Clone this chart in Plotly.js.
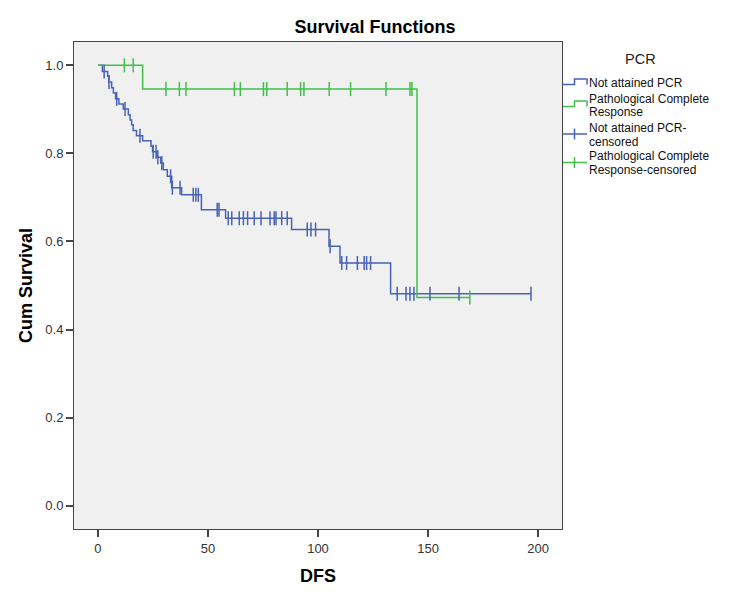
<!DOCTYPE html>
<html>
<head>
<meta charset="utf-8">
<script src="https://cdn.plot.ly/plotly-3.0.1.min.js"></script>
<style>
  html, body { margin: 0; padding: 0; background: #ffffff; }
  #chart { width: 750px; height: 600px; }
</style>
</head>
<body>
<div id="chart"></div>
<script>
// Kaplan-Meier steps: time of each drop and survival level after it
const notAttainedTime = [0, 2.0, 4.4, 5.0, 6.2, 7.0, 8.0, 9.5, 11.5, 13.8, 14.6, 15.3, 16.0, 17.5, 20.3, 24.1, 24.8, 26.8, 28.5, 29.7, 31.5, 33.5, 38.0, 47.0, 58.0, 88.0, 105.0, 110.0, 133.0, 196.8];
const notAttainedSurv = [1.0, 0.986, 0.975, 0.962, 0.949, 0.937, 0.924, 0.912, 0.901, 0.888, 0.876, 0.865, 0.852, 0.840, 0.829, 0.816, 0.804, 0.791, 0.778, 0.763, 0.748, 0.722, 0.706, 0.672, 0.653, 0.627, 0.589, 0.551, 0.481, 0.481];

const pcrTime = [0, 20.3, 145.0, 169.0];
const pcrSurv = [1.0, 0.946, 0.473, 0.473];

// Censored observations (time, survival level at that time)
const notAttainedCensTime = [2.8, 5.0, 8.5, 12.3, 19.1, 25.1, 26.4, 27.2, 29.0, 33.0, 33.8, 37.3, 43.3, 44.5, 45.6,
  54.2, 55.0,
  59.2, 60.8, 64.2, 66.1, 68.0, 71.0, 74.1, 78.2, 80.1, 80.9, 83.5, 86.0,
  95.1, 96.8, 98.9,
  105.5,
  110.8, 113.0, 117.9, 121.0, 122.1, 123.9,
  136.0, 140.0, 141.8, 143.6, 150.9, 164.1, 196.8];
const notAttainedCensSurv = [0.986, 0.962, 0.924, 0.901, 0.840, 0.804, 0.804, 0.791, 0.778, 0.748, 0.722, 0.722, 0.706, 0.706, 0.706,
  0.672, 0.672,
  0.653, 0.653, 0.653, 0.653, 0.653, 0.653, 0.653, 0.653, 0.653, 0.653, 0.653, 0.653,
  0.627, 0.627, 0.627,
  0.589,
  0.551, 0.551, 0.551, 0.551, 0.551, 0.551,
  0.481, 0.481, 0.481, 0.481, 0.481, 0.481, 0.481];

const pcrCensTime = [12.0, 16.0, 30.9, 37.0, 40.0, 62.0, 64.7, 75.2, 76.7, 86.0, 92.1, 93.6, 105.1, 114.8, 130.9, 141.8, 142.7, 169.0];
const pcrCensSurv = [1.0, 1.0, 0.946, 0.946, 0.946, 0.946, 0.946, 0.946, 0.946, 0.946, 0.946, 0.946, 0.946, 0.946, 0.946, 0.946, 0.946, 0.473];

const legendTitle = 'PCR';
const seriesNames = ['Not attained PCR', 'Pathological Complete Response', 'Not attained PCR-censored', 'Pathological Complete Response-censored'];
// how each legend label is broken over lines
const legendLines = [
  ['Not attained PCR'],
  ['Pathological Complete', 'Response'],
  ['Not attained PCR-', 'censored'],
  ['Pathological Complete', 'Response-censored']
];
const yTicks = [0.0, 0.2, 0.4, 0.6, 0.8, 1.0];
const xTicks = [0, 50, 100, 150, 200];

const BLUE = '#4762b6';
const GREEN = '#3fbf4a';
const FONT = 'Liberation Sans, Arial, sans-serif';

// plot area in pixels (used to place the side legend)
const M = { l: 74, r: 188, t: 42, b: 71 };
const W = 750, H = 600;
const pw = W - M.l - M.r, ph = H - M.t - M.b;
const px = v => (v - M.l) / pw;
const py = v => (H - M.b - v) / ph;

// Isolated points separated by gaps, so no segments join the tick marks
function isolated(xs, ys) {
  const x = [], y = [];
  xs.forEach((v, i) => { x.push(v, null); y.push(ys[i], null); });
  return { x, y };
}

const blueC = isolated(notAttainedCensTime, notAttainedCensSurv);
const greenC = isolated(pcrCensTime, pcrCensSurv);

const traces = [
  { x: notAttainedTime, y: notAttainedSurv, name: seriesNames[0], type: 'scatter', mode: 'lines',
    line: { shape: 'hv', color: BLUE, width: 1.5 } },
  { x: pcrTime, y: pcrSurv, name: seriesNames[1], type: 'scatter', mode: 'lines',
    line: { shape: 'hv', color: GREEN, width: 1.5 } },
  { x: blueC.x, y: blueC.y, name: seriesNames[2], type: 'scatter', mode: 'markers',
    marker: { symbol: 'line-ns', size: 10, color: BLUE, line: { color: BLUE, width: 1.5 } } },
  { x: greenC.x, y: greenC.y, name: seriesNames[3], type: 'scatter', mode: 'markers',
    marker: { symbol: 'line-ns', size: 10, color: GREEN, line: { color: GREEN, width: 1.5 } } }
];

// Side legend: step icons for the curves, crossed lines for censored marks
const iconX0 = 563, iconXm = 574.5, iconX1 = 587;
const legendRows = [
  { kind: 'step', color: BLUE, low: 84.5, high: 79, text: [82.7] },
  { kind: 'step', color: GREEN, low: 106.5, high: 101, text: [98.5, 112.3] },
  { kind: 'cens', color: BLUE, mid: 134, text: [128.0, 141.8] },
  { kind: 'cens', color: GREEN, mid: 162.5, text: [156.0, 169.8] }
];

const shapes = [];
const annotations = [{
  text: legendTitle, xref: 'paper', yref: 'paper', x: px(640), y: py(58.5),
  xanchor: 'center', yanchor: 'middle', showarrow: false, borderpad: 0,
  font: { family: FONT, size: 14.5, color: '#222' }
}];

legendRows.forEach((row, i) => {
  if (row.kind === 'step') {
    shapes.push({
      type: 'path', xref: 'paper', yref: 'paper',
      path: `M ${px(iconX0)},${py(row.low)} L ${px(iconXm)},${py(row.low)} L ${px(iconXm)},${py(row.high)} L ${px(iconX1)},${py(row.high)} L ${px(iconX1)},${py(row.low)}`,
      line: { color: row.color, width: 1.5 }
    });
  } else {
    shapes.push({ type: 'line', xref: 'paper', yref: 'paper',
      x0: px(iconX0), x1: px(iconX1), y0: py(row.mid), y1: py(row.mid),
      line: { color: row.color, width: 1.5 } });
    shapes.push({ type: 'line', xref: 'paper', yref: 'paper',
      x0: px(iconXm), x1: px(iconXm), y0: py(row.mid - 5.5), y1: py(row.mid + 5.5),
      line: { color: row.color, width: 1.5 } });
  }
  legendLines[i].forEach((t, j) => {
    annotations.push({
      text: t, xref: 'paper', yref: 'paper', x: px(588), y: py(row.text[j]),
      xanchor: 'left', yanchor: 'middle', showarrow: false, borderpad: 0,
      font: { family: FONT, size: 12, color: '#111' }
    });
  });
});

const axisCommon = {
  ticks: 'outside', ticklen: 7, tickwidth: 2, tickcolor: '#444',
  showline: true, linecolor: '#444', linewidth: 1, mirror: true,
  showgrid: false, zeroline: false,
  tickfont: { family: FONT, size: 13, color: '#333' }
};

const layout = {
  width: W, height: H,
  margin: M,
  paper_bgcolor: '#ffffff',
  plot_bgcolor: '#f0f0f0',
  font: { family: FONT, color: '#000' },
  showlegend: false,
  title: {
    text: 'Survival Functions',
    font: { family: FONT, size: 18, weight: 'bold', color: '#000' },
    x: 0.5, xref: 'container', xanchor: 'center',
    y: 0.955, yref: 'container', yanchor: 'middle'
  },
  xaxis: Object.assign({}, axisCommon, {
    range: [-10.9, 210.9], tickvals: xTicks,
    title: { text: 'DFS', font: { family: FONT, size: 18, weight: 'bold', color: '#000' }, standoff: 14 }
  }),
  yaxis: Object.assign({}, axisCommon, {
    range: [-0.053, 1.053], tickvals: yTicks, tickformat: '.1f',
    title: { text: 'Cum Survival', font: { family: FONT, size: 18, weight: 'bold', color: '#000' }, standoff: 8 }
  }),
  shapes: shapes,
  annotations: annotations
};

Plotly.newPlot('chart', traces, layout, { displayModeBar: false, staticPlot: true });
</script>
</body>
</html>
